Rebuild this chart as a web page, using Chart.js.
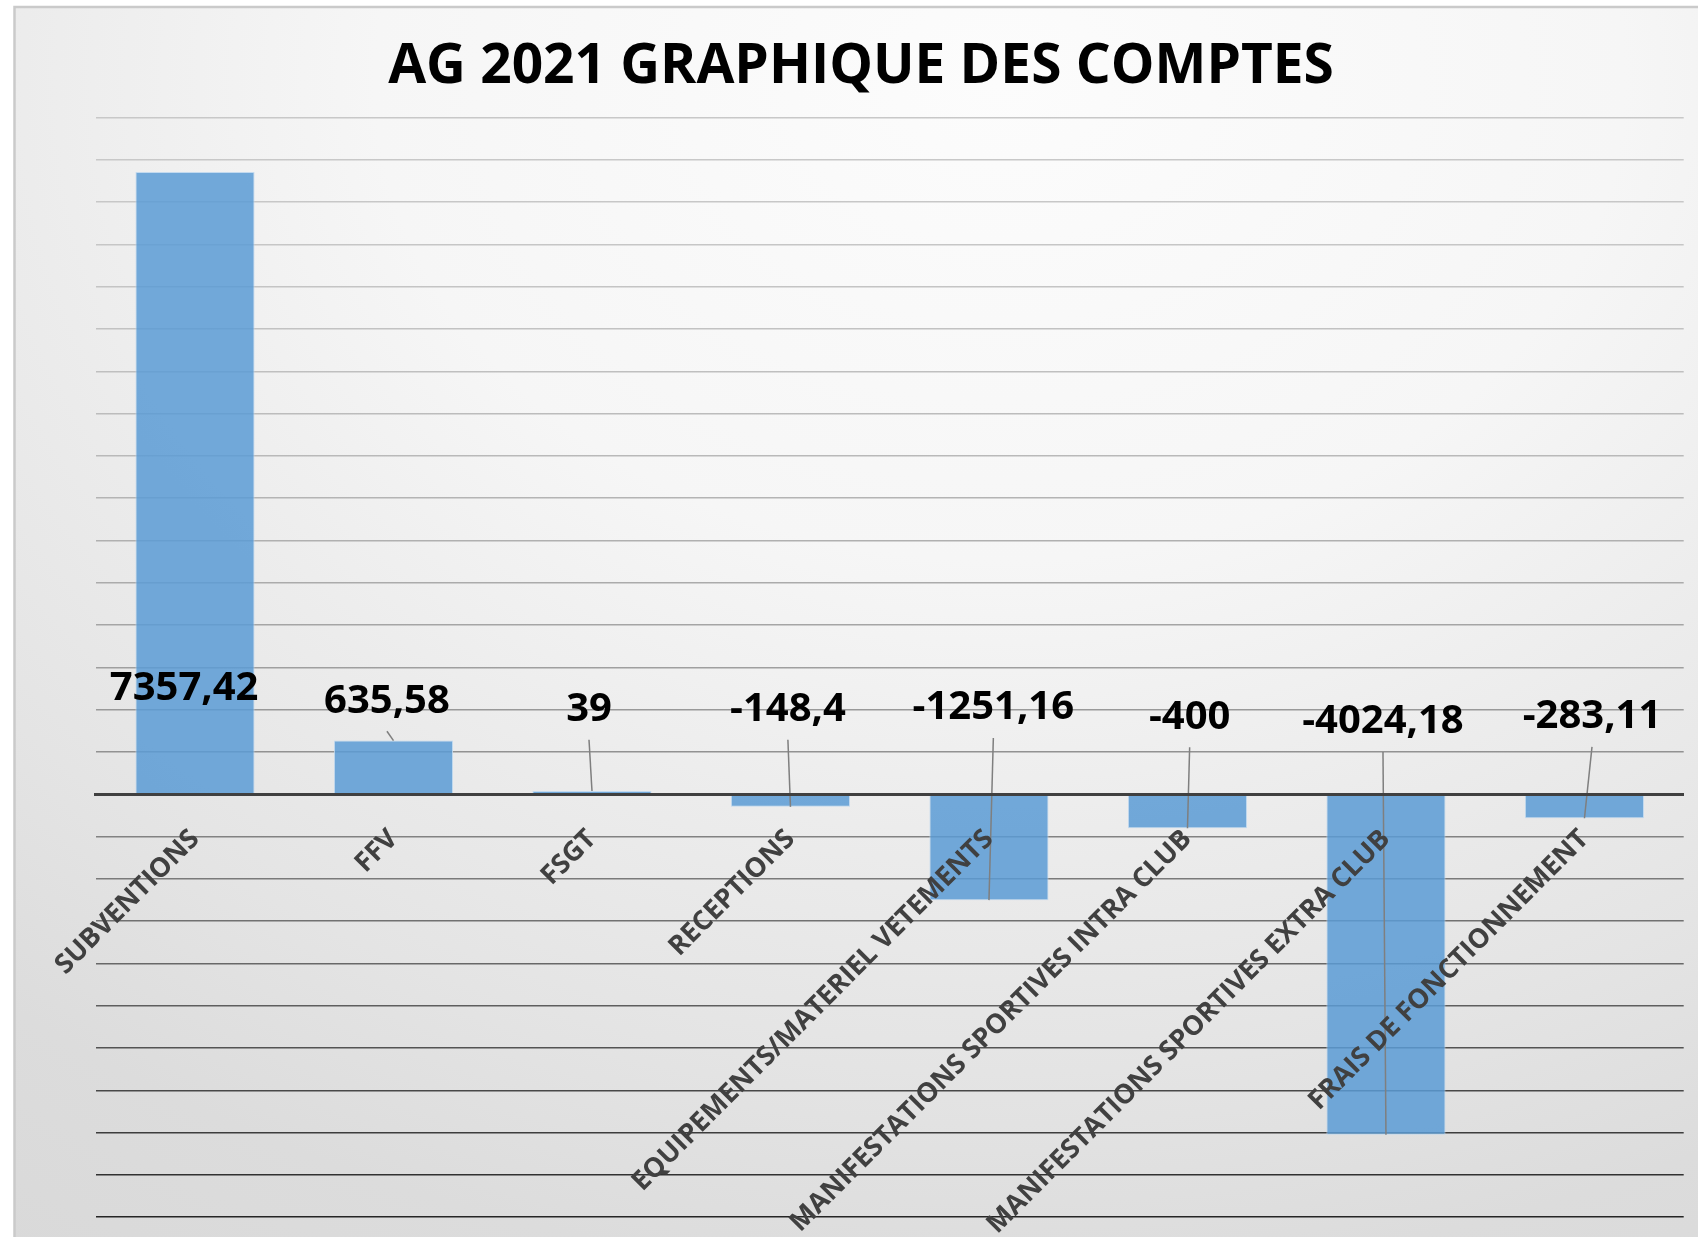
<!DOCTYPE html>
<html>
<head>
<meta charset="utf-8">
<script src="https://cdn.jsdelivr.net/npm/chart.js@4.4.1/dist/chart.umd.min.js"></script>
<style>
html, body { margin: 0; padding: 0; background: #ffffff; }
#wrap { width: 1698px; height: 1237px; position: relative; }
</style>
</head>
<body>
<div id="wrap"><canvas id="chart"></canvas></div>
<script>
// ---- Data ----
const chartTitle = 'AG 2021 GRAPHIQUE DES COMPTES';
const categories = [
  'SUBVENTIONS',
  'FFV',
  'FSGT',
  'RECEPTIONS',
  'EQUIPEMENTS/MATERIEL VETEMENTS',
  'MANIFESTATIONS SPORTIVES INTRA CLUB',
  'MANIFESTATIONS SPORTIVES EXTRA CLUB',
  'FRAIS DE FONCTIONNEMENT'
];
const values = [7357.42, 635.58, 39, -148.4, -1251.16, -400, -4024.18, -283.11];
const valueLabels = ['7357,42', '635,58', '39', '-148,4', '-1251,16', '-400', '-4024,18', '-283,11'];
// manual label placement (value units / fraction of category)
const labelLevels = [1250, 1100, 1000, 1000, 1020, 910, 855, 915];
const labelShifts = [-0.055, -0.033, -0.015, -0.013, 0.022, 0.011, -0.015, 0.038];
const yMin = -5000;
const yMax = 8000;
const yStep = 500;

// ---- Plugins ----
const backgroundPlugin = {
  id: 'framedBackground',
  beforeDraw(chart) {
    const { ctx, width, height } = chart;
    ctx.save();
    ctx.fillStyle = '#ffffff';
    ctx.fillRect(0, 0, width, height);
    ctx.beginPath();
    ctx.rect(14.5, 7, width, height);
    ctx.clip();
    ctx.translate(1000, 80);
    ctx.scale(1.3, 1);
    const g = ctx.createRadialGradient(0, 0, 0, 0, 0, 1600);
    g.addColorStop(0, '#fcfcfc');
    g.addColorStop(0.3, '#f6f6f6');
    g.addColorStop(0.47, '#ececec');
    g.addColorStop(0.62, '#e4e4e4');
    g.addColorStop(0.75, '#dcdcdc');
    g.addColorStop(1, '#d6d6d6');
    ctx.fillStyle = g;
    ctx.fillRect(-3000, -3000, 6000, 6000);
    ctx.restore();
    ctx.save();
    ctx.strokeStyle = '#cacaca';
    ctx.lineWidth = 2.5;
    ctx.beginPath();
    ctx.moveTo(14.5, height);
    ctx.lineTo(14.5, 7);
    ctx.lineTo(width, 7);
    ctx.stroke();
    ctx.restore();
  }
};

const valueLabelPlugin = {
  id: 'valueLabels',
  afterDatasetsDraw(chart) {
    const { ctx } = chart;
    const meta = chart.getDatasetMeta(0);
    const xs = chart.scales.x;
    const ys = chart.scales.y;
    const catW = xs.width / categories.length;
    const base = ys.getPixelForValue(0);
    ctx.save();
    meta.data.forEach((bar, i) => {
      const lx = bar.x + labelShifts[i] * catW;
      const ly = ys.getPixelForValue(labelLevels[i]);
      const inside = values[i] >= 0 ? (ly >= bar.y && ly <= base) : (ly <= bar.y && ly >= base);
      if (!inside) {
        ctx.strokeStyle = '#7f7f7f';
        ctx.lineWidth = 1.5;
        ctx.beginPath();
        ctx.moveTo(lx, ly + 30);
        ctx.lineTo(bar.x, bar.y);
        ctx.stroke();
      }
    });
    ctx.fillStyle = '#000000';
    ctx.font = 'bold 40px "Open Sans"';
    ctx.textAlign = 'center';
    ctx.textBaseline = 'middle';
    meta.data.forEach((bar, i) => {
      const lx = bar.x + labelShifts[i] * catW;
      const ly = ys.getPixelForValue(labelLevels[i]);
      ctx.fillText(valueLabels[i], lx, ly);
    });
    ctx.restore();
  }
};

function gridColor(ctx) {
  const v = ctx.tick ? ctx.tick.value : 0;
  if (v === 0) return 'rgba(0,0,0,0)';
  const t = (yMax - v) / (yMax - yMin);
  const c = Math.round(200 - 163 * t * t);
  return 'rgb(' + c + ',' + c + ',' + c + ')';
}

new Chart(document.getElementById('chart'), {
  type: 'bar',
  data: {
    labels: categories,
    datasets: [{
      data: values,
      backgroundColor: 'rgba(91,155,213,0.85)',
      borderColor: 'rgba(190,215,238,0.9)',
      borderWidth: 1,
      categoryPercentage: 1.0,
      barPercentage: 0.6
    }]
  },
  options: {
    responsive: true,
    maintainAspectRatio: false,
    animation: false,
    layout: { padding: { left: 38.3, right: 14.3, top: 0, bottom: 19.8 } },
    plugins: {
      legend: { display: false },
      tooltip: { enabled: false },
      title: {
        display: true,
        text: chartTitle,
        color: '#000000',
        font: { family: 'Open Sans', size: 55, weight: 'bold' },
        padding: { top: 34.5, bottom: 17.2 }
      }
    },
    scales: {
      x: {
        position: { y: 0 },
        grid: { display: false, drawTicks: false },
        border: { display: true, color: '#404040', width: 3, z: 1 },
        ticks: {
          autoSkip: false,
          minRotation: 45,
          maxRotation: 45,
          padding: 29,
          color: '#404040',
          font: { family: 'Open Sans', size: 27, weight: 'bold' },
          z: 1
        },
        afterFit(scale) { scale.height = 0; }
      },
      y: {
        min: yMin,
        max: yMax,
        ticks: { display: false, stepSize: yStep },
        grid: { color: gridColor, lineWidth: 1.6, drawTicks: false },
        border: { display: false },
        afterFit(scale) { scale.width = 57.45; }
      }
    }
  },
  plugins: [backgroundPlugin, valueLabelPlugin]
});
</script>
</body>
</html>
